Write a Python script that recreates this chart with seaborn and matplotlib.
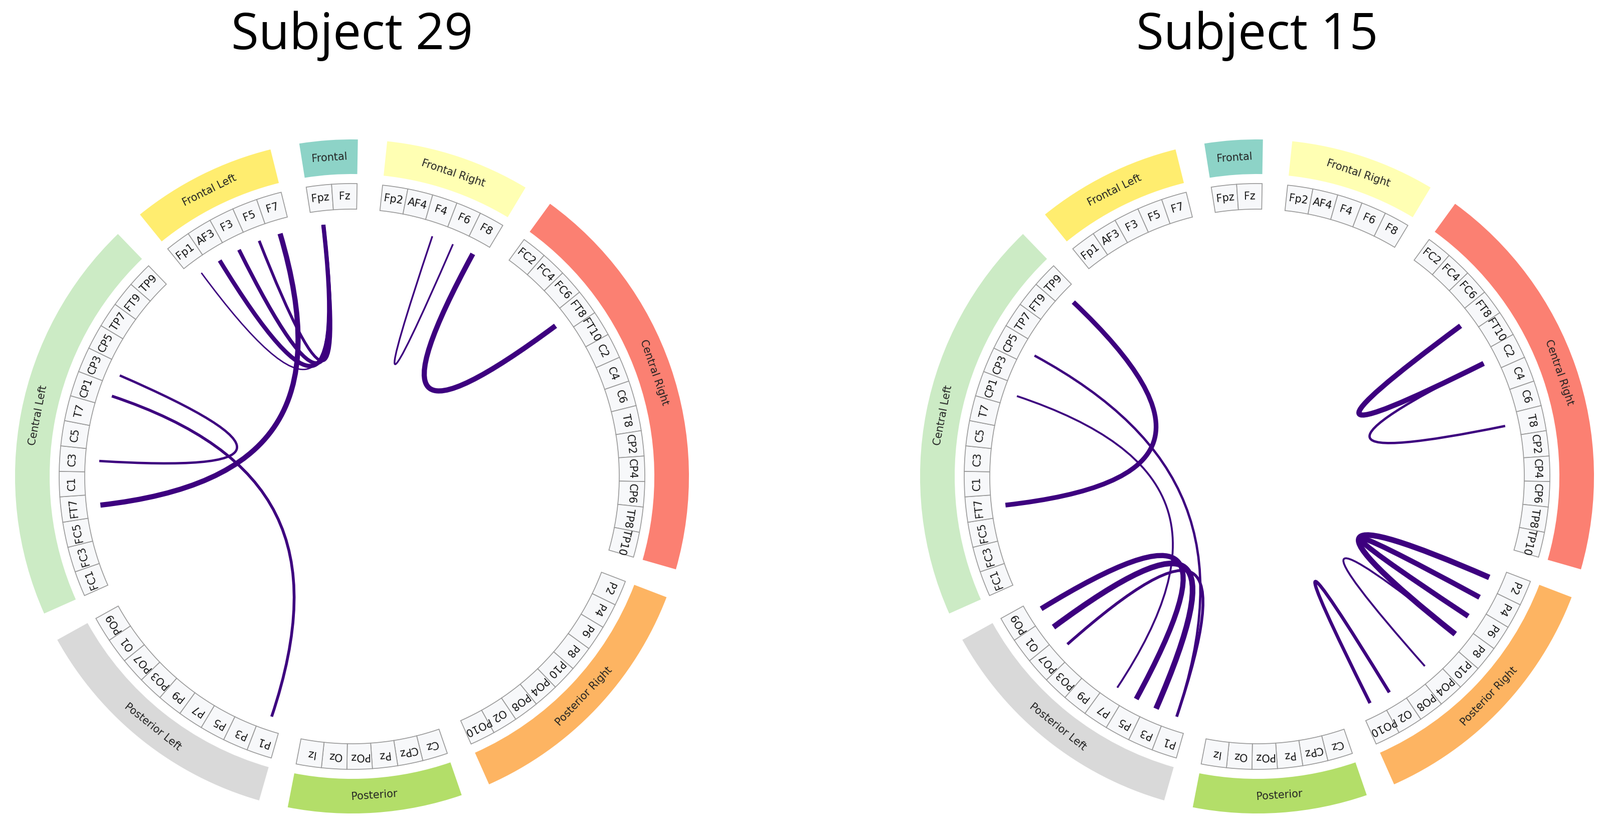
import numpy as np
import matplotlib
matplotlib.use("Agg")
import matplotlib.pyplot as plt
import seaborn as sns
from matplotlib.patches import Wedge, PathPatch
from matplotlib.path import Path

sns.set_theme(style="white")

# ---------------- data ----------------
group_names = ["Frontal", "Frontal Right", "Central Right", "Posterior Right",
               "Posterior", "Posterior Left", "Central Left", "Frontal Left"]
group_nodes = [
    ["Fpz", "Fz"],
    ["Fp2", "AF4", "F4", "F6", "F8"],
    ["FC2", "FC4", "FC6", "FT8", "FT10", "C2", "C4", "C6", "T8", "CP2", "CP4", "CP6", "TP8", "TP10"],
    ["P2", "P4", "P6", "P8", "P10", "PO4", "PO8", "O2", "PO10"],
    ["Cz", "CPz", "Pz", "POz", "Oz", "Iz"],
    ["P1", "P3", "P5", "P7", "P9", "PO3", "PO7", "O1", "PO9"],
    ["FC1", "FC3", "FC5", "FT7", "C1", "C3", "C5", "T7", "CP1", "CP3", "CP5", "TP7", "FT9", "TP9"],
    ["Fp1", "AF3", "F3", "F5", "F7"],
]
palette_idx = [0, 1, 3, 5, 6, 8, 10, 11]

titles = ["Subject 29", "Subject 15"]
conn_src = [
    ["Fp1", "AF3", "F3", "F5", "F7", "F4", "F8", "CP3", "CP1"],
    ["TP9", "FT8", "C2", "PO10", "PO4", "P2", "P4", "PO9", "O1", "PO7", "CP5", "CP1"],
]
conn_dst = [
    ["Fpz", "Fpz", "Fpz", "Fpz", "FT7", "F6", "FT8", "C3", "P1"],
    ["FT7", "C2", "T8", "O2", "P8", "P8", "P6", "P5", "P3", "P1", "P1", "P7"],
]
conn_strength = [
    [1.5, 4.5, 4.0, 3.0, 5.5, 1.8, 5.5, 2.5, 3.0],
    [5.0, 5.5, 2.5, 3.5, 2.0, 6.0, 5.5, 5.5, 6.0, 3.0, 2.5, 2.0],
]

# ---------------- layout ----------------
W, H = 3191, 1645
fig = plt.figure(figsize=(W / 100, H / 100), dpi=100)
ax = fig.add_axes([0, 0, 1, 1])
ax.set_xlim(0, W)
ax.set_ylim(0, H)
ax.set_aspect("equal")
ax.axis("off")

pal = sns.color_palette("Set3", 12)
step = 5.0
rot0 = 94.0 + step / 2  # angle of first node
R_CH, R_B0, R_B1, R_G0, R_G1 = 505, 533, 584, 603, 672
chord_color = "#3d007f"

angles = {}
group_spans = []
slot = 0
for names in group_nodes:
    start = slot
    for n in names:
        angles[n] = rot0 - step * slot
        slot += 1
    group_spans.append((rot0 - step * (slot - 1) - step / 2, rot0 - step * start + step / 2))
    slot += 1

centers = [(702, H - 950), (2507, H - 950)]


def pol(cx, cy, r, a):
    t = np.deg2rad(a)
    return cx + r * np.cos(t), cy + r * np.sin(t)


for (cx, cy), title, srcs, dsts, strengths in zip(centers, titles, conn_src, conn_dst, conn_strength):
    ax.text(cx, H - 72, title, ha="center", va="center", fontsize=72,
            fontfamily="Open Sans", color="black")
    for gi, (gname, (a0, a1)) in enumerate(zip(group_names, group_spans)):
        ax.add_patch(Wedge((cx, cy), R_G1, a0, a1, width=R_G1 - R_G0,
                           facecolor=pal[palette_idx[gi]], edgecolor="none"))
        am = (a0 + a1) / 2
        rot = am - 90 if np.sin(np.deg2rad(am)) >= 0 else am + 90
        x, y = pol(cx, cy, (R_G0 + R_G1) / 2, am)
        ax.text(x, y, gname, rotation=rot, ha="center", va="center",
                rotation_mode="anchor", fontsize=15, color="#222222")
    for n, a in angles.items():
        ax.add_patch(Wedge((cx, cy), R_B1, a - step / 2, a + step / 2, width=R_B1 - R_B0,
                           facecolor="#f7f8fa", edgecolor="#999999", linewidth=1.2))
        x, y = pol(cx, cy, (R_B0 + R_B1) / 2, a)
        ax.text(x, y, n, rotation=a - 90, ha="center", va="center",
                rotation_mode="anchor", fontsize=15, color="#111111")
    for s, d, w in zip(srcs, dsts, strengths):
        a0, a1 = angles[s], angles[d]
        p0 = pol(cx, cy, R_CH, a0)
        p1 = pol(cx, cy, R_CH * 0.3, a0)
        p2 = pol(cx, cy, R_CH * 0.3, a1)
        p3 = pol(cx, cy, R_CH, a1)
        path = Path([p0, p1, p2, p3], [Path.MOVETO, Path.CURVE4, Path.CURVE4, Path.CURVE4])
        ax.add_patch(PathPatch(path, facecolor="none", edgecolor=chord_color,
                               linewidth=w * 1.35, capstyle="butt"))

fig.savefig("out.png", dpi=100, facecolor="white")
